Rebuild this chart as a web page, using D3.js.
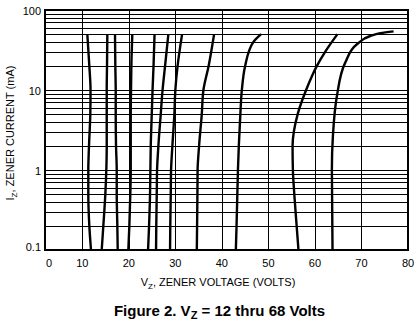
<!DOCTYPE html>
<html>
<head>
<meta charset="utf-8">
<script src="https://cdn.jsdelivr.net/npm/d3@7/dist/d3.min.js"></script>
<style>
  html, body { margin: 0; padding: 0; background: #fff; }
  svg { display: block; font-family: "Liberation Sans", Arial, sans-serif; }
</style>
</head>
<body>
<svg id="chart" width="418" height="325"></svg>
<script>
// ---- Data ----
const xTicks = [0, 10, 20, 30, 40, 50, 60, 70, 80];
const yTicks = [0.1, 1, 10, 100];
const yTickLabels = ["0.1", "1", "10", "100"];

// currents (mA) shared by the low-voltage curves
const currents = [50, 20, 10, 5, 2, 1, 0.5, 0.2, 0.1];
// zener voltage (V) at each current, one array per curve
const v12 = [11.08, 11.51, 11.77, 11.72, 11.44, 11.29, 11.29, 11.51, 11.87];
const v15 = [15.38, 15.31, 15.25, 15.25, 15.25, 15.16, 14.95, 14.52, 14.17];
const v18 = [17.03, 17.10, 17.18, 17.18, 17.25, 17.40, 17.40, 17.53, 17.61];
const v20 = [20.75, 20.54, 20.47, 20.41, 20.41, 20.41, 20.32, 20.11, 19.89];
const v24 = [25.53, 25.31, 25.10, 24.93, 24.71, 24.63, 24.56, 24.35, 24.13];
const v27 = [28.50, 27.79, 27.25, 26.86, 26.35, 26.07, 26.00, 25.90, 25.85];
const v30 = [31.45, 30.48, 30.00, 29.79, 29.36, 29.08, 29.01, 28.91, 28.86];
const v36 = [38.33, 37.15, 36.03, 35.68, 35.10, 34.78, 34.74, 34.67, 34.61];

const i43 = [50, 40, 20, 10, 5, 2, 1, 0.5, 0.2, 0.1];
const v43 = [48.44, 46.78, 45.00, 44.29, 43.97, 43.64, 43.45, 43.32, 43.15, 43.00];

const i56 = [50, 30, 20, 15, 10, 5, 2, 1, 0.5, 0.2, 0.1];
const v56 = [64.85, 62.19, 60.42, 59.37, 58.1, 56.29, 55.19, 55.26, 55.56, 56.07, 56.46];

const i68 = [54, 51.2, 47.3, 37.3, 22, 8.4, 2.66, 1.02, 0.1];
const v68 = [76.9, 74.04, 71.88, 69.02, 66.51, 64.72, 63.86, 63.64, 63.78];

const curves = [
  [currents, v12], [currents, v15], [currents, v18], [currents, v20],
  [currents, v24], [currents, v27], [currents, v30], [currents, v36],
  [i43, v43], [i56, v56], [i68, v68]
].map(([is, vs]) => is.map((c, k) => ({ i: c, v: vs[k] })));

// ---- Layout ----
const svg = d3.select("#chart");
const L = 45, R = 408, T = 10, B = 250;

// the reference's "0" sits at the frame edge while 10..80 are evenly spaced
const x = d3.scaleLinear().domain([0, 10, 80]).range([L, 82.3, R]);
const y = d3.scaleLog().domain([0.1, 100]).range([B, T]);

const g = svg.append("g");

// horizontal log grid
const minor = [];
for (let dec = 0.1; dec < 100; dec *= 10) {
  for (let m = 1; m <= 9; m++) minor.push(+(dec * m).toPrecision(3));
}
g.selectAll("line.hg").data(minor.filter(d => d > 0.1 && d < 100)).join("line")
  .attr("x1", L).attr("x2", R)
  .attr("y1", d => Math.round(y(d)) + 0.5).attr("y2", d => Math.round(y(d)) + 0.5)
  .attr("stroke", "#000").attr("stroke-width", 1);

// vertical grid
g.selectAll("line.vg").data(xTicks.filter(d => d > 0 && d < 80)).join("line")
  .attr("y1", T).attr("y2", B)
  .attr("x1", d => Math.round(x(d)) + 0.5).attr("x2", d => Math.round(x(d)) + 0.5)
  .attr("stroke", "#000").attr("stroke-width", 1);

// frame
g.append("rect").attr("x", L).attr("y", T).attr("width", R - L).attr("height", B - T)
  .attr("fill", "none").attr("stroke", "#000").attr("stroke-width", 2);

// curves (current decreases monotonically along each curve -> monotone in y)
const line = d3.line().x(d => x(d.v)).y(d => y(d.i)).curve(d3.curveMonotoneY);
g.selectAll("path.c").data(curves).join("path")
  .attr("d", line).attr("fill", "none").attr("stroke", "#000")
  .attr("stroke-width", 2.4).attr("stroke-linecap", "butt");

// y tick labels
svg.selectAll("text.yt").data(yTicks).join("text")
  .attr("x", 41).attr("y", d => d === 0.1 ? y(d) + 1 : y(d) + 5)
  .attr("text-anchor", "end").attr("font-size", 11).attr("fill", "#000")
  .text((d, k) => yTickLabels[k]);

// x tick labels
svg.selectAll("text.xt").data(xTicks).join("text")
  .attr("x", d => d === 0 ? x(d) + 1 : x(d))
  .attr("y", 267)
  .attr("text-anchor", d => d === 0 ? "start" : "middle")
  .attr("font-size", 11).attr("fill", "#000")
  .text(d => d);

// x axis title
const xt = svg.append("text").attr("x", 218).attr("y", 286)
  .attr("text-anchor", "middle").attr("font-size", 11).attr("fill", "#000");
xt.append("tspan").text("V");
xt.append("tspan").attr("font-size", 8).attr("dy", 3).text("Z");
xt.append("tspan").attr("dy", -3).text(", ZENER VOLTAGE (VOLTS)");

// y axis title
const yt = svg.append("text").attr("transform", "translate(14,133) rotate(-90)")
  .attr("text-anchor", "middle").attr("font-size", 11).attr("fill", "#000");
yt.append("tspan").text("I");
yt.append("tspan").attr("font-size", 8).attr("dy", 3).text("Z");
yt.append("tspan").attr("dy", -3).text(", ZENER CURRENT (mA)");

// figure caption
const ft = svg.append("text").attr("x", 219.5).attr("y", 316)
  .attr("text-anchor", "middle").attr("font-size", 15).attr("font-weight", "bold").attr("fill", "#000");
ft.append("tspan").text("Figure 2. V");
ft.append("tspan").attr("font-size", 11).attr("dy", 3).text("Z");
ft.append("tspan").attr("dy", -3).text(" = 12 thru 68 Volts");
</script>
</body>
</html>
